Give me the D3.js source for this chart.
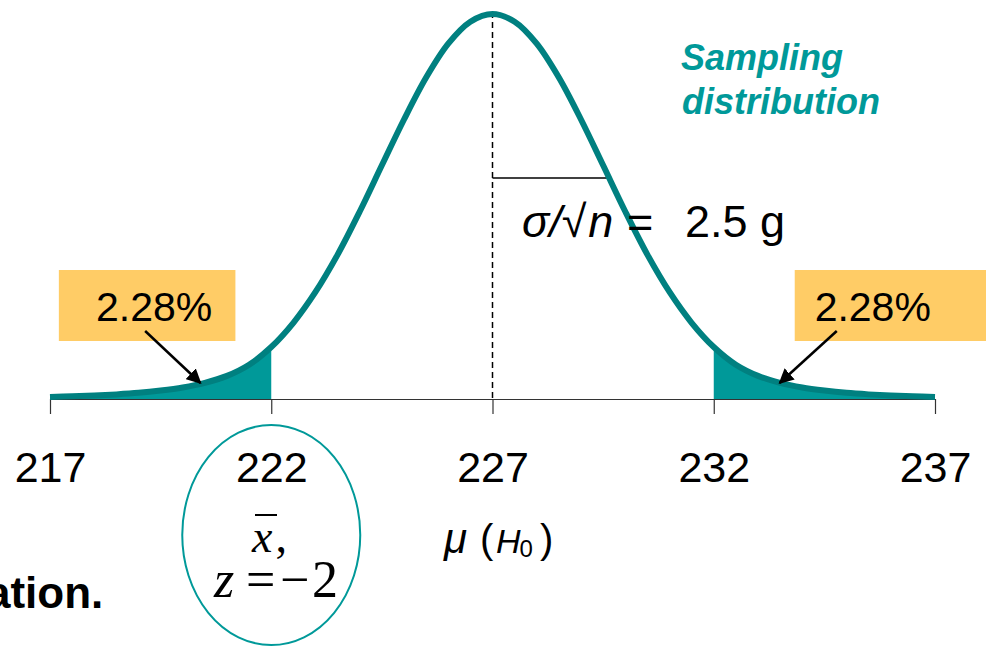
<!DOCTYPE html>
<html lang="en">
<head>
<meta charset="UTF-8">
<title>Sampling distribution</title>
<script src="https://d3js.org/d3.v7.min.js"></script>
<style>
    body { margin: 0; background: #fff; }
    svg { display: block; font-family: "Liberation Sans", Arial, sans-serif; }
    .tick line, .domain { stroke: #333; }
    .tick text { font-size: 43px; fill: #000; }
</style>
</head>
<body>
<svg id="chart" width="986" height="646"></svg>
<script>
// curve heights (relative to the peak), every half gram
const xVals = [217, 217.5, 218, 218.5, 219, 219.5, 220, 220.5, 221, 221.5, 222, 222.5, 223, 223.5, 224, 224.5, 225, 225.5, 226, 226.5,
               227, 227.5, 228, 228.5, 229, 229.5, 230, 230.5, 231, 231.5, 232, 232.5, 233, 233.5, 234, 234.5, 235, 235.5, 236, 236.5, 237];
const hVals = [0.005, 0.007, 0.009, 0.012, 0.016, 0.022, 0.030, 0.042, 0.060, 0.089, 0.135, 0.198, 0.278, 0.375, 0.487, 0.607, 0.726, 0.835, 0.923, 0.980,
               1.000, 0.980, 0.923, 0.835, 0.726, 0.607, 0.487, 0.375, 0.278, 0.198, 0.135, 0.089, 0.060, 0.042, 0.030, 0.022, 0.016, 0.012, 0.009, 0.007, 0.005];
const tickVals = [217, 222, 227, 232, 237];
const mu = 227;
const cutLow = 222, cutHigh = 232;
const tailLabels = ["2.28%", "2.28%"];
const seLabel = "2.5 g";

const svg = d3.select("#chart");
const x = d3.scaleLinear().domain([217, 237]).range([50, 935]);
const y = d3.scaleLinear().domain([0, 1]).range([399, 14]);

const pts = xVals.map((v, i) => ({ x: v, h: hVals[i] }));

// shaded tails
const area = d3.area().x(d => x(d.x)).y0(y(0)).y1(d => y(d.h)).curve(d3.curveCatmullRom);
svg.append("path").datum(pts.filter(d => d.x <= cutLow))
    .attr("d", area).attr("fill", "#009999");
svg.append("path").datum(pts.filter(d => d.x >= cutHigh))
    .attr("d", area).attr("fill", "#009999");

// axis
const axis = svg.append("g")
    .attr("transform", `translate(0,${y(0)})`)
    .call(d3.axisBottom(x).tickValues(tickVals).tickSize(15).tickSizeOuter(0));
axis.select(".domain").attr("stroke-width", 1.2);
axis.selectAll(".tick line").attr("stroke-width", 1.2);
axis.selectAll(".tick text").attr("y", 83).attr("dy", 0).attr("font-family", "Liberation Sans, Arial, sans-serif");

// mean line
svg.append("line")
    .attr("x1", x(mu)).attr("x2", x(mu))
    .attr("y1", y(1) - 2).attr("y2", y(0))
    .attr("stroke", "#000").attr("stroke-width", 1.5).attr("stroke-dasharray", "6,4");

// standard error bar
svg.append("line")
    .attr("x1", x(mu)).attr("x2", x(229.6))
    .attr("y1", y(0.574)).attr("y2", y(0.574))
    .attr("stroke", "#000").attr("stroke-width", 1.5);

// the curve
const line = d3.line().x(d => x(d.x)).y(d => y(d.h)).curve(d3.curveCatmullRom);
svg.append("path").datum(pts)
    .attr("d", line).attr("fill", "none")
    .attr("stroke", "#008080").attr("stroke-width", 6).attr("stroke-linejoin", "round");

// se label
const se = svg.append("text").attr("y", 237).attr("font-size", 45).attr("fill", "#000");
se.append("tspan").attr("x", 522).attr("font-style", "italic").text("σ/√");
se.append("tspan").attr("font-style", "italic").attr("dx", 2).text("n");
se.append("tspan").attr("x", 627).text("=");
se.append("tspan").attr("x", 685).text(seLabel);

// title
const title = svg.append("text").attr("font-size", 36).attr("font-weight", "bold")
    .attr("font-style", "italic").attr("fill", "#009999");
title.append("tspan").attr("x", 681).attr("y", 70).text("Sampling");
title.append("tspan").attr("x", 682).attr("y", 114).text("distribution");

// tail boxes + arrows
svg.append("defs").append("marker")
    .attr("id", "arrow").attr("viewBox", "0 0 10 10")
    .attr("refX", 9).attr("refY", 5)
    .attr("markerWidth", 6).attr("markerHeight", 6)
    .attr("markerUnits", "strokeWidth").attr("orient", "auto")
    .append("path").attr("d", "M0,0L10,5L0,10z").attr("fill", "#000");

const boxes = [
    { x0: 217.2, x1: 221.19, tx: 218.04, ax0: 219.15, ax1: 220.4 },
    { x0: 233.83, x1: 238.2, tx: 234.28, ax0: 234.78, ax1: 233.49 }
];
boxes.forEach((b, i) => {
    svg.append("rect")
        .attr("x", x(b.x0)).attr("y", 270)
        .attr("width", x(b.x1) - x(b.x0)).attr("height", 71)
        .attr("fill", "#FFCC66");
    svg.append("text")
        .attr("x", x(b.tx)).attr("y", 321)
        .attr("font-size", 41).attr("fill", "#000")
        .text(tailLabels[i]);
    svg.append("line")
        .attr("x1", x(b.ax0)).attr("y1", 331)
        .attr("x2", x(b.ax1)).attr("y2", 383)
        .attr("stroke", "#000").attr("stroke-width", 2.5)
        .attr("marker-end", "url(#arrow)");
});

// circled sample mean
svg.append("ellipse")
    .attr("cx", x(cutLow)).attr("cy", 535).attr("rx", 89).attr("ry", 110)
    .attr("fill", "none").attr("stroke", "#009999").attr("stroke-width", 2);

const serif = "Liberation Serif, Times New Roman, serif";
const xb = svg.append("text").attr("y", 552)
    .attr("font-family", serif).attr("font-size", 46);
xb.append("tspan").attr("x", 252).attr("font-style", "italic").text("x");
xb.append("tspan").attr("dx", 3).text(",");
svg.append("line").attr("x1", 255).attr("x2", 277).attr("y1", 515).attr("y2", 515)
    .attr("stroke", "#000").attr("stroke-width", 2);

const zt = svg.append("text").attr("y", 597)
    .attr("font-family", serif).attr("font-size", 52);
zt.append("tspan").attr("x", 214).attr("font-style", "italic").text("z");
zt.append("tspan").attr("x", 246).text("=");
zt.append("tspan").attr("x", 280).text("−");
zt.append("tspan").attr("x", 312).text("2");

// mu (H0)
const mt = svg.append("text").attr("y", 553).attr("fill", "#000");
mt.append("tspan").attr("x", 444).attr("font-size", 42).attr("font-style", "italic").text("μ");
mt.append("tspan").attr("x", 480).attr("font-size", 40).text("(");
mt.append("tspan").attr("x", 496).attr("font-size", 34).attr("font-style", "italic").text("H");
mt.append("tspan").attr("font-size", 24).attr("dy", 4).attr("dx", -1).text("0");
mt.append("tspan").attr("x", 540).attr("dy", -4).attr("font-size", 40).text(")");

// cut-off slide text
svg.append("text").attr("x", -14).attr("y", 608)
    .attr("font-size", 44).attr("font-weight", "bold").attr("fill", "#000")
    .text("ation.");
</script>
</body>
</html>
